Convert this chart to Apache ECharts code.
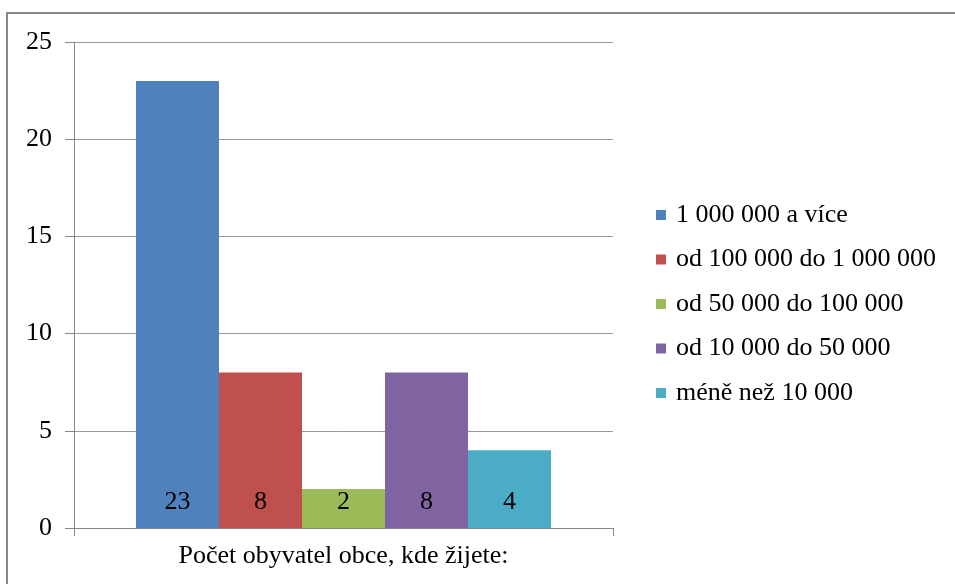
<!DOCTYPE html>
<html>
<head>
<meta charset="utf-8">
<script src="https://cdn.jsdelivr.net/npm/echarts@6/dist/echarts.min.js"></script>
<style>
  html, body { margin: 0; padding: 0; background: #fff; }
  #chart { width: 955px; height: 584px; }
</style>
</head>
<body>
<div id="chart"></div>
<script>
// data
const categories = ['Počet obyvatel obce, kde žijete:'];
const seriesNames = ['1 000 000 a více', 'od 100 000 do 1 000 000', 'od 50 000 do 100 000', 'od 10 000 do 50 000', 'méně než 10 000'];
const seriesValues = [23, 8, 2, 8, 4];
const colors = ['#4F81BD', '#C0504D', '#9BBB59', '#8064A2', '#4BACC6'];
const yTicks = { min: 0, max: 25, interval: 5 };

const font = '"Liberation Serif", "Times New Roman", serif';
const myChart = echarts.init(document.getElementById('chart'));

const series = seriesNames.map((name, i) => ({
    name: name,
    type: 'bar',
    data: [seriesValues[i]],
    itemStyle: { color: colors[i] },
    barGap: 0,
    barCategoryGap: '23%',
    label: {
        show: true,
        position: 'insideBottom',
        distance: 13,
        color: '#000',
        fontFamily: font,
        fontSize: 26
    }
}));

const option = {
    animation: false,
    textStyle: { fontFamily: font },
    graphic: [{
        type: 'rect',
        shape: { x: 7, y: 13, width: 960, height: 600 },
        style: { fill: 'none', stroke: '#878787', lineWidth: 2 },
        silent: true
    }],
    grid: { left: 74, right: 342, top: 42, bottom: 56 },
    legend: {
        orient: 'vertical',
        left: 651,
        top: 197,
        icon: 'rect',
        itemWidth: 10,
        itemHeight: 10,
        itemGap: 18.5,
        textStyle: { fontFamily: font, fontSize: 26, color: '#000', padding: [0, 0, 0, 5] },
        data: seriesNames
    },
    xAxis: {
        type: 'category',
        data: categories,
        axisLine: { lineStyle: { color: '#888' } },
        axisTick: { show: true, length: 8, lineStyle: { color: '#888' } },
        axisLabel: { fontFamily: font, fontSize: 26, color: '#000', margin: 15 }
    },
    yAxis: {
        type: 'value',
        min: yTicks.min,
        max: yTicks.max,
        interval: yTicks.interval,
        axisLine: { show: true, lineStyle: { color: '#888' } },
        axisTick: { show: true, length: 9, lineStyle: { color: '#888' } },
        axisLabel: { fontFamily: font, fontSize: 26, color: '#000', margin: 22 },
        splitLine: { lineStyle: { color: '#999' } }
    },
    series: series
};
myChart.setOption(option);
</script>
</body>
</html>
